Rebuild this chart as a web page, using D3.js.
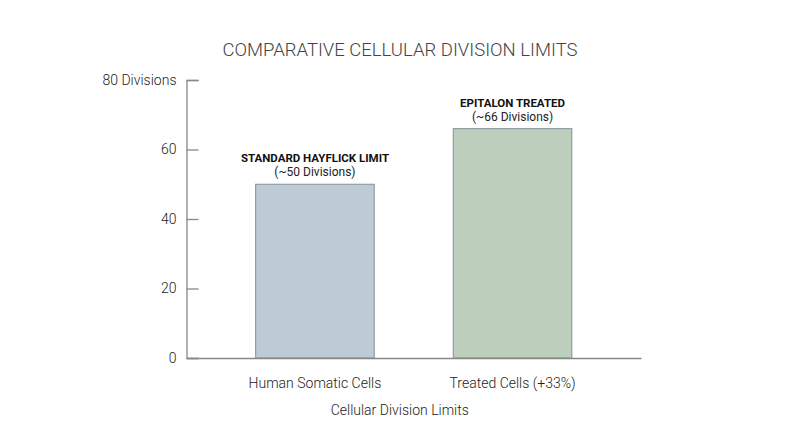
<!DOCTYPE html>
<html><head><meta charset="utf-8">
<script src="https://cdn.jsdelivr.net/npm/d3@7"></script>
<style>body{margin:0;background:#fff;font-family:Roboto,sans-serif}</style>
</head><body><svg id="c" width="800" height="447"></svg>
<script>
const categories = ["Human Somatic Cells", "Treated Cells (+33%)"];
const values = [50, 66];
const annotTitles = ["STANDARD HAYFLICK LIMIT", "EPITALON TREATED"];
const annotSubs = ["(~50 Divisions)", "(~66 Divisions)"];
const colors = ["#bccbd6", "#bccfbd"];
const yTicks = [0, 20, 40, 60, 80];
const yTickLabels = ["0", "20", "40", "60", "80 Divisions"];
const title = "COMPARATIVE CELLULAR DIVISION LIMITS";
const xTitle = "Cellular Division Limits";

const svg = d3.select("#c");
const x0 = 186.5, x1 = 641, yTop = 80, yBot = 358;
const x = d3.scaleBand().domain(categories).range([x0, x1]).paddingInner(0.4).paddingOuter(0.35);
const y = d3.scaleLinear().domain([0, 80]).range([yBot, yTop]);

svg.append("text").attr("x", 400).attr("y", 56).attr("text-anchor", "middle")
  .attr("font-size", 18.5).attr("font-weight", 300).attr("fill", "#444").text(title);

// bars
svg.selectAll("rect.bar").data(values).join("rect").attr("class","bar")
  .attr("x", (d,i) => x(categories[i])).attr("width", x.bandwidth())
  .attr("y", d => y(d)).attr("height", d => y(0) - y(d))
  .attr("fill", (d,i) => colors[i]).attr("stroke", "#868f94").attr("stroke-width", 1);

// y axis
const ya = svg.append("g").attr("transform", `translate(${x0},0)`)
  .call(d3.axisRight(y).tickValues(yTicks).tickSize(12).tickFormat((d,i) => yTickLabels[i]));
ya.select(".domain").attr("stroke", "#888").attr("stroke-width", 1.3);
ya.selectAll(".tick line").attr("stroke", "#888").attr("stroke-width", 1.3);
ya.selectAll(".tick text").attr("x", -10).attr("text-anchor", "end")
  .attr("font-size", 14).attr("font-weight", 300).attr("font-family", "Roboto").attr("fill", "#222");

// x axis
const xa = svg.append("g").attr("transform", `translate(0,${yBot})`)
  .call(d3.axisBottom(x).tickSize(0).tickSizeOuter(0));
xa.select(".domain").attr("stroke", "#888").attr("stroke-width", 1.3);
xa.selectAll(".tick text").attr("y", 20).attr("dy", "0.71em").attr("font-size", 14)
  .attr("font-weight", 300).attr("font-family", "Roboto").attr("fill", "#222");

svg.append("text").attr("x", x0 + (x1 - x0)/2 - 14).attr("y", 415).attr("text-anchor", "middle")
  .attr("font-size", 14).attr("font-weight", 300).attr("fill", "#222").text(xTitle);

// annotations
values.forEach((v,i) => {
  const cx = x(categories[i]) + x.bandwidth()/2;
  svg.append("text").attr("x", cx).attr("y", y(v) - 22).attr("text-anchor","middle")
    .attr("font-size", 11.5).attr("font-weight", 700).attr("fill", "#111").text(annotTitles[i]);
  svg.append("text").attr("x", cx).attr("y", y(v) - 8).attr("text-anchor","middle")
    .attr("font-size", 12).attr("fill", "#222").text(annotSubs[i]);
});
</script></body></html>
